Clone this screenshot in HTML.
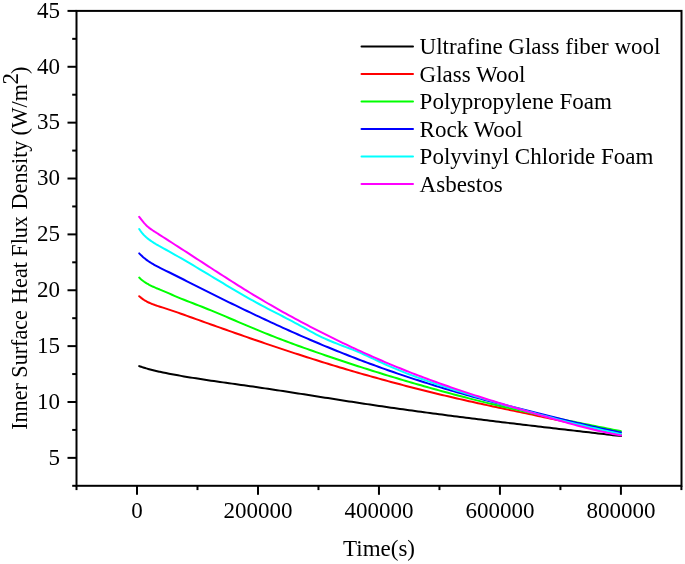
<!DOCTYPE html>
<html><head><meta charset="utf-8"><style>
html,body{margin:0;padding:0;background:#fff;width:685px;height:564px;overflow:hidden;}
svg{display:block;font-family:"Liberation Serif",serif;will-change:transform;}
</style></head><body>
<svg width="685" height="564" viewBox="0 0 685 564"><rect width="685" height="564" fill="#fff"/><g fill="none" stroke-width="2" stroke-linejoin="round" stroke-linecap="round"><path stroke="black" d="M139.20,366.10 L140.20,366.45 L141.20,366.78 L142.20,367.11 L143.20,367.43 L144.20,367.74 L145.20,368.05 L146.20,368.35 L147.20,368.64 L148.20,368.92 L149.20,369.20 L150.20,369.47 L151.20,369.73 L152.20,369.99 L153.20,370.25 L154.20,370.49 L155.20,370.74 L156.20,370.97 L157.20,371.21 L158.20,371.44 L159.20,371.66 L160.00,371.84 L163.00,372.48 L166.00,373.09 L169.00,373.67 L172.00,374.24 L175.00,374.80 L178.00,375.34 L181.00,375.87 L184.00,376.39 L187.00,376.90 L190.00,377.40 L193.00,377.88 L196.00,378.36 L199.00,378.83 L202.00,379.29 L205.00,379.75 L208.00,380.20 L211.00,380.64 L214.00,381.08 L217.00,381.51 L220.00,381.94 L223.00,382.37 L226.00,382.79 L229.00,383.21 L232.00,383.63 L235.00,384.05 L238.00,384.47 L241.00,384.90 L244.00,385.32 L247.00,385.74 L250.00,386.17 L253.00,386.61 L256.00,387.04 L259.00,387.48 L262.00,387.92 L265.00,388.37 L268.00,388.81 L271.00,389.26 L274.00,389.72 L277.00,390.17 L280.00,390.63 L283.00,391.09 L286.00,391.55 L289.00,392.01 L292.00,392.48 L295.00,392.94 L298.00,393.41 L301.00,393.88 L304.00,394.35 L307.00,394.82 L310.00,395.29 L313.00,395.76 L316.00,396.23 L319.00,396.70 L322.00,397.17 L325.00,397.64 L328.00,398.11 L331.00,398.58 L334.00,399.05 L337.00,399.52 L340.00,399.99 L343.00,400.46 L346.00,400.92 L349.00,401.39 L352.00,401.85 L355.00,402.31 L358.00,402.77 L361.00,403.22 L364.00,403.68 L367.00,404.13 L370.00,404.58 L373.00,405.02 L376.00,405.47 L379.00,405.91 L382.00,406.35 L385.00,406.78 L388.00,407.21 L391.00,407.64 L394.00,408.07 L397.00,408.50 L400.00,408.92 L403.00,409.34 L406.00,409.76 L409.00,410.18 L412.00,410.59 L415.00,411.00 L418.00,411.41 L421.00,411.82 L424.00,412.23 L427.00,412.63 L430.00,413.03 L433.00,413.43 L436.00,413.83 L439.00,414.22 L442.00,414.61 L445.00,415.01 L448.00,415.40 L451.00,415.78 L454.00,416.17 L457.00,416.56 L460.00,416.94 L463.00,417.32 L466.00,417.70 L469.00,418.08 L472.00,418.45 L475.00,418.83 L478.00,419.20 L481.00,419.58 L484.00,419.95 L487.00,420.32 L490.00,420.68 L493.00,421.05 L496.00,421.42 L499.00,421.78 L502.00,422.15 L505.00,422.51 L508.00,422.87 L511.00,423.23 L514.00,423.59 L517.00,423.95 L520.00,424.31 L523.00,424.66 L526.00,425.02 L529.00,425.37 L532.00,425.73 L535.00,426.08 L538.00,426.43 L541.00,426.79 L544.00,427.14 L547.00,427.49 L550.00,427.84 L553.00,428.19 L556.00,428.54 L559.00,428.89 L562.00,429.24 L565.00,429.58 L568.00,429.93 L571.00,430.28 L574.00,430.63 L577.00,430.97 L580.00,431.32 L583.00,431.67 L586.00,432.01 L589.00,432.36 L592.00,432.71 L595.00,433.05 L598.00,433.40 L601.00,433.75 L604.00,434.10 L607.00,434.44 L610.00,434.79 L613.00,435.14 L616.00,435.48 L619.00,435.83 L620.90,436.05"/><path stroke="#ff0000" d="M139.20,296.21 L140.20,297.09 L141.20,297.90 L142.20,298.66 L143.20,299.37 L144.20,300.03 L145.20,300.65 L146.20,301.23 L147.20,301.76 L148.20,302.27 L149.20,302.74 L150.20,303.19 L151.20,303.62 L152.20,304.03 L153.20,304.41 L154.20,304.79 L155.20,305.15 L156.20,305.49 L157.20,305.83 L158.20,306.16 L159.20,306.48 L160.00,306.73 L163.00,307.66 L166.00,308.61 L169.00,309.58 L172.00,310.58 L175.00,311.60 L178.00,312.65 L181.00,313.71 L184.00,314.78 L187.00,315.86 L190.00,316.94 L193.00,318.02 L196.00,319.10 L199.00,320.17 L202.00,321.25 L205.00,322.32 L208.00,323.40 L211.00,324.47 L214.00,325.54 L217.00,326.60 L220.00,327.67 L223.00,328.73 L226.00,329.79 L229.00,330.85 L232.00,331.91 L235.00,332.96 L238.00,334.01 L241.00,335.06 L244.00,336.11 L247.00,337.15 L250.00,338.19 L253.00,339.22 L256.00,340.26 L259.00,341.28 L262.00,342.31 L265.00,343.33 L268.00,344.35 L271.00,345.37 L274.00,346.38 L277.00,347.38 L280.00,348.39 L283.00,349.39 L286.00,350.38 L289.00,351.37 L292.00,352.35 L295.00,353.34 L298.00,354.31 L301.00,355.28 L304.00,356.25 L307.00,357.21 L310.00,358.17 L313.00,359.12 L316.00,360.06 L319.00,361.00 L322.00,361.94 L325.00,362.87 L328.00,363.79 L331.00,364.71 L334.00,365.62 L337.00,366.53 L340.00,367.43 L343.00,368.33 L346.00,369.22 L349.00,370.11 L352.00,370.99 L355.00,371.86 L358.00,372.73 L361.00,373.59 L364.00,374.45 L367.00,375.31 L370.00,376.15 L373.00,377.00 L376.00,377.83 L379.00,378.66 L382.00,379.49 L385.00,380.31 L388.00,381.13 L391.00,381.94 L394.00,382.74 L397.00,383.54 L400.00,384.34 L403.00,385.13 L406.00,385.91 L409.00,386.69 L412.00,387.46 L415.00,388.23 L418.00,388.99 L421.00,389.75 L424.00,390.50 L427.00,391.25 L430.00,391.99 L433.00,392.73 L436.00,393.46 L439.00,394.19 L442.00,394.91 L445.00,395.63 L448.00,396.34 L451.00,397.05 L454.00,397.75 L457.00,398.45 L460.00,399.14 L463.00,399.82 L466.00,400.50 L469.00,401.18 L472.00,401.85 L475.00,402.52 L478.00,403.18 L481.00,403.84 L484.00,404.49 L487.00,405.14 L490.00,405.79 L493.00,406.43 L496.00,407.07 L499.00,407.71 L502.00,408.34 L505.00,408.98 L508.00,409.61 L511.00,410.24 L514.00,410.87 L517.00,411.50 L520.00,412.13 L523.00,412.75 L526.00,413.38 L529.00,414.01 L532.00,414.64 L535.00,415.27 L538.00,415.90 L541.00,416.53 L544.00,417.16 L547.00,417.80 L550.00,418.43 L553.00,419.07 L556.00,419.72 L559.00,420.36 L562.00,421.01 L565.00,421.66 L568.00,422.32 L571.00,422.98 L574.00,423.64 L577.00,424.31 L580.00,424.99 L583.00,425.67 L586.00,426.36 L589.00,427.05 L592.00,427.74 L595.00,428.45 L598.00,429.16 L601.00,429.88 L604.00,430.60 L607.00,431.34 L610.00,432.08 L613.00,432.83 L616.00,433.58 L619.00,434.35 L620.90,434.84"/><path stroke="#00ff00" d="M139.20,277.59 L140.20,278.53 L141.20,279.40 L142.20,280.23 L143.20,281.00 L144.20,281.73 L145.20,282.41 L146.20,283.05 L147.20,283.66 L148.20,284.23 L149.20,284.78 L150.20,285.30 L151.20,285.80 L152.20,286.28 L153.20,286.74 L154.20,287.19 L155.20,287.62 L156.20,288.05 L157.20,288.47 L158.20,288.88 L159.20,289.28 L160.00,289.60 L163.00,290.82 L166.00,292.07 L169.00,293.39 L172.00,294.72 L175.00,296.05 L178.00,297.34 L181.00,298.58 L184.00,299.79 L187.00,300.97 L190.00,302.14 L193.00,303.30 L196.00,304.45 L199.00,305.61 L202.00,306.79 L205.00,307.99 L208.00,309.20 L211.00,310.42 L214.00,311.66 L217.00,312.91 L220.00,314.17 L223.00,315.43 L226.00,316.70 L229.00,317.98 L232.00,319.26 L235.00,320.54 L238.00,321.82 L241.00,323.10 L244.00,324.38 L247.00,325.65 L250.00,326.92 L253.00,328.18 L256.00,329.43 L259.00,330.66 L262.00,331.89 L265.00,333.10 L268.00,334.30 L271.00,335.49 L274.00,336.67 L277.00,337.83 L280.00,338.98 L283.00,340.13 L286.00,341.26 L289.00,342.38 L292.00,343.49 L295.00,344.60 L298.00,345.69 L301.00,346.78 L304.00,347.86 L307.00,348.93 L310.00,349.99 L313.00,351.05 L316.00,352.10 L319.00,353.14 L322.00,354.18 L325.00,355.21 L328.00,356.24 L331.00,357.26 L334.00,358.27 L337.00,359.28 L340.00,360.28 L343.00,361.28 L346.00,362.27 L349.00,363.26 L352.00,364.24 L355.00,365.22 L358.00,366.19 L361.00,367.15 L364.00,368.11 L367.00,369.06 L370.00,370.01 L373.00,370.95 L376.00,371.89 L379.00,372.82 L382.00,373.75 L385.00,374.67 L388.00,375.59 L391.00,376.50 L394.00,377.40 L397.00,378.30 L400.00,379.20 L403.00,380.09 L406.00,380.97 L409.00,381.85 L412.00,382.72 L415.00,383.59 L418.00,384.46 L421.00,385.31 L424.00,386.17 L427.00,387.02 L430.00,387.86 L433.00,388.70 L436.00,389.53 L439.00,390.36 L442.00,391.18 L445.00,392.00 L448.00,392.81 L451.00,393.62 L454.00,394.43 L457.00,395.22 L460.00,396.02 L463.00,396.80 L466.00,397.58 L469.00,398.36 L472.00,399.13 L475.00,399.89 L478.00,400.64 L481.00,401.39 L484.00,402.14 L487.00,402.88 L490.00,403.61 L493.00,404.33 L496.00,405.05 L499.00,405.76 L502.00,406.46 L505.00,407.16 L508.00,407.85 L511.00,408.53 L514.00,409.21 L517.00,409.88 L520.00,410.55 L523.00,411.21 L526.00,411.86 L529.00,412.51 L532.00,413.16 L535.00,413.80 L538.00,414.44 L541.00,415.07 L544.00,415.70 L547.00,416.32 L550.00,416.95 L553.00,417.56 L556.00,418.18 L559.00,418.79 L562.00,419.40 L565.00,420.01 L568.00,420.62 L571.00,421.22 L574.00,421.82 L577.00,422.43 L580.00,423.03 L583.00,423.63 L586.00,424.23 L589.00,424.82 L592.00,425.42 L595.00,426.02 L598.00,426.62 L601.00,427.22 L604.00,427.82 L607.00,428.42 L610.00,429.02 L613.00,429.63 L616.00,430.23 L619.00,430.84 L620.90,431.23"/><path stroke="#0000ff" d="M139.20,253.35 L140.20,254.36 L141.20,255.34 L142.20,256.26 L143.20,257.15 L144.20,258.00 L145.20,258.81 L146.20,259.59 L147.20,260.33 L148.20,261.05 L149.20,261.73 L150.20,262.39 L151.20,263.02 L152.20,263.64 L153.20,264.23 L154.20,264.80 L155.20,265.36 L156.20,265.90 L157.20,266.43 L158.20,266.95 L159.20,267.46 L160.00,267.86 L163.00,269.33 L166.00,270.79 L169.00,272.27 L172.00,273.75 L175.00,275.24 L178.00,276.74 L181.00,278.25 L184.00,279.76 L187.00,281.28 L190.00,282.80 L193.00,284.32 L196.00,285.83 L199.00,287.35 L202.00,288.86 L205.00,290.37 L208.00,291.87 L211.00,293.37 L214.00,294.87 L217.00,296.36 L220.00,297.85 L223.00,299.33 L226.00,300.81 L229.00,302.28 L232.00,303.74 L235.00,305.21 L238.00,306.66 L241.00,308.11 L244.00,309.56 L247.00,311.00 L250.00,312.43 L253.00,313.86 L256.00,315.28 L259.00,316.70 L262.00,318.11 L265.00,319.51 L268.00,320.91 L271.00,322.30 L274.00,323.68 L277.00,325.06 L280.00,326.43 L283.00,327.79 L286.00,329.14 L289.00,330.49 L292.00,331.83 L295.00,333.16 L298.00,334.49 L301.00,335.81 L304.00,337.12 L307.00,338.42 L310.00,339.71 L313.00,341.00 L316.00,342.27 L319.00,343.54 L322.00,344.80 L325.00,346.05 L328.00,347.29 L331.00,348.52 L334.00,349.75 L337.00,350.96 L340.00,352.17 L343.00,353.36 L346.00,354.55 L349.00,355.73 L352.00,356.89 L355.00,358.05 L358.00,359.20 L361.00,360.34 L364.00,361.47 L367.00,362.59 L370.00,363.71 L373.00,364.81 L376.00,365.90 L379.00,366.99 L382.00,368.07 L385.00,369.13 L388.00,370.19 L391.00,371.24 L394.00,372.28 L397.00,373.32 L400.00,374.34 L403.00,375.35 L406.00,376.36 L409.00,377.36 L412.00,378.35 L415.00,379.33 L418.00,380.30 L421.00,381.27 L424.00,382.22 L427.00,383.17 L430.00,384.11 L433.00,385.04 L436.00,385.97 L439.00,386.88 L442.00,387.79 L445.00,388.69 L448.00,389.58 L451.00,390.46 L454.00,391.34 L457.00,392.20 L460.00,393.06 L463.00,393.91 L466.00,394.76 L469.00,395.60 L472.00,396.42 L475.00,397.24 L478.00,398.06 L481.00,398.86 L484.00,399.66 L487.00,400.45 L490.00,401.24 L493.00,402.02 L496.00,402.79 L499.00,403.56 L502.00,404.32 L505.00,405.08 L508.00,405.84 L511.00,406.59 L514.00,407.33 L517.00,408.08 L520.00,408.82 L523.00,409.56 L526.00,410.30 L529.00,411.04 L532.00,411.77 L535.00,412.51 L538.00,413.24 L541.00,413.98 L544.00,414.72 L547.00,415.46 L550.00,416.20 L553.00,416.94 L556.00,417.68 L559.00,418.43 L562.00,419.17 L565.00,419.91 L568.00,420.65 L571.00,421.39 L574.00,422.12 L577.00,422.85 L580.00,423.57 L583.00,424.29 L586.00,425.00 L589.00,425.70 L592.00,426.40 L595.00,427.08 L598.00,427.76 L601.00,428.42 L604.00,429.07 L607.00,429.71 L610.00,430.33 L613.00,430.95 L616.00,431.54 L619.00,432.12 L620.90,432.48"/><path stroke="#00ffff" d="M139.20,229.01 L140.20,230.48 L141.20,231.85 L142.20,233.10 L143.20,234.27 L144.20,235.34 L145.20,236.33 L146.20,237.25 L147.20,238.11 L148.20,238.92 L149.20,239.68 L150.20,240.40 L151.20,241.09 L152.20,241.77 L153.20,242.42 L154.20,243.05 L155.20,243.66 L156.20,244.27 L157.20,244.85 L158.20,245.43 L159.20,246.00 L160.00,246.45 L163.00,248.10 L166.00,249.75 L169.00,251.41 L172.00,253.09 L175.00,254.79 L178.00,256.50 L181.00,258.22 L184.00,259.95 L187.00,261.70 L190.00,263.46 L193.00,265.23 L196.00,267.01 L199.00,268.79 L202.00,270.59 L205.00,272.39 L208.00,274.19 L211.00,276.00 L214.00,277.81 L217.00,279.62 L220.00,281.42 L223.00,283.23 L226.00,285.02 L229.00,286.81 L232.00,288.60 L235.00,290.37 L238.00,292.13 L241.00,293.88 L244.00,295.61 L247.00,297.33 L250.00,299.03 L253.00,300.71 L256.00,302.36 L259.00,304.00 L262.00,305.61 L265.00,307.20 L268.00,308.77 L271.00,310.33 L274.00,311.88 L277.00,313.42 L280.00,314.96 L283.00,316.50 L286.00,318.05 L289.00,319.61 L292.00,321.19 L295.00,322.78 L298.00,324.40 L301.00,326.05 L304.00,327.72 L307.00,329.39 L310.00,331.06 L313.00,332.70 L316.00,334.30 L319.00,335.84 L322.00,337.30 L325.00,338.68 L328.00,340.00 L331.00,341.27 L334.00,342.48 L337.00,343.67 L340.00,344.83 L343.00,345.98 L346.00,347.12 L349.00,348.27 L352.00,349.44 L355.00,350.64 L358.00,351.88 L361.00,353.17 L364.00,354.50 L367.00,355.88 L370.00,357.29 L373.00,358.70 L376.00,360.13 L379.00,361.53 L382.00,362.92 L385.00,364.28 L388.00,365.61 L391.00,366.92 L394.00,368.20 L397.00,369.45 L400.00,370.68 L403.00,371.89 L406.00,373.08 L409.00,374.25 L412.00,375.40 L415.00,376.52 L418.00,377.63 L421.00,378.72 L424.00,379.79 L427.00,380.85 L430.00,381.89 L433.00,382.92 L436.00,383.93 L439.00,384.93 L442.00,385.92 L445.00,386.90 L448.00,387.86 L451.00,388.82 L454.00,389.76 L457.00,390.70 L460.00,391.63 L463.00,392.55 L466.00,393.47 L469.00,394.39 L472.00,395.29 L475.00,396.20 L478.00,397.10 L481.00,398.00 L484.00,398.89 L487.00,399.78 L490.00,400.66 L493.00,401.54 L496.00,402.41 L499.00,403.28 L502.00,404.15 L505.00,405.01 L508.00,405.86 L511.00,406.71 L514.00,407.56 L517.00,408.40 L520.00,409.24 L523.00,410.07 L526.00,410.90 L529.00,411.72 L532.00,412.53 L535.00,413.34 L538.00,414.15 L541.00,414.95 L544.00,415.74 L547.00,416.53 L550.00,417.31 L553.00,418.09 L556.00,418.86 L559.00,419.63 L562.00,420.39 L565.00,421.14 L568.00,421.89 L571.00,422.63 L574.00,423.37 L577.00,424.10 L580.00,424.82 L583.00,425.54 L586.00,426.25 L589.00,426.96 L592.00,427.65 L595.00,428.34 L598.00,429.03 L601.00,429.71 L604.00,430.38 L607.00,431.04 L610.00,431.70 L613.00,432.35 L616.00,433.00 L619.00,433.63 L620.90,434.03"/><path stroke="#ff00ff" d="M139.20,216.82 L140.20,218.16 L141.20,219.46 L142.20,220.71 L143.20,221.92 L144.20,223.08 L145.20,224.17 L146.20,225.20 L147.20,226.15 L148.20,227.03 L149.20,227.86 L150.20,228.63 L151.20,229.35 L152.20,230.04 L153.20,230.71 L154.20,231.36 L155.20,232.00 L156.20,232.64 L157.20,233.28 L158.20,233.92 L159.20,234.56 L160.00,235.08 L163.00,237.00 L166.00,238.93 L169.00,240.85 L172.00,242.78 L175.00,244.72 L178.00,246.65 L181.00,248.58 L184.00,250.52 L187.00,252.46 L190.00,254.40 L193.00,256.35 L196.00,258.29 L199.00,260.24 L202.00,262.19 L205.00,264.14 L208.00,266.08 L211.00,268.03 L214.00,269.97 L217.00,271.91 L220.00,273.84 L223.00,275.77 L226.00,277.69 L229.00,279.60 L232.00,281.51 L235.00,283.41 L238.00,285.30 L241.00,287.18 L244.00,289.05 L247.00,290.90 L250.00,292.74 L253.00,294.57 L256.00,296.39 L259.00,298.19 L262.00,299.98 L265.00,301.74 L268.00,303.50 L271.00,305.23 L274.00,306.96 L277.00,308.66 L280.00,310.36 L283.00,312.03 L286.00,313.70 L289.00,315.35 L292.00,316.99 L295.00,318.61 L298.00,320.22 L301.00,321.82 L304.00,323.41 L307.00,324.98 L310.00,326.55 L313.00,328.10 L316.00,329.64 L319.00,331.17 L322.00,332.69 L325.00,334.20 L328.00,335.70 L331.00,337.18 L334.00,338.66 L337.00,340.13 L340.00,341.58 L343.00,343.03 L346.00,344.46 L349.00,345.88 L352.00,347.29 L355.00,348.69 L358.00,350.08 L361.00,351.46 L364.00,352.82 L367.00,354.18 L370.00,355.52 L373.00,356.85 L376.00,358.17 L379.00,359.48 L382.00,360.77 L385.00,362.06 L388.00,363.33 L391.00,364.59 L394.00,365.83 L397.00,367.07 L400.00,368.29 L403.00,369.50 L406.00,370.70 L409.00,371.88 L412.00,373.06 L415.00,374.22 L418.00,375.37 L421.00,376.51 L424.00,377.64 L427.00,378.76 L430.00,379.86 L433.00,380.96 L436.00,382.05 L439.00,383.12 L442.00,384.19 L445.00,385.25 L448.00,386.30 L451.00,387.34 L454.00,388.37 L457.00,389.39 L460.00,390.40 L463.00,391.41 L466.00,392.40 L469.00,393.39 L472.00,394.37 L475.00,395.35 L478.00,396.32 L481.00,397.28 L484.00,398.23 L487.00,399.18 L490.00,400.12 L493.00,401.05 L496.00,401.98 L499.00,402.90 L502.00,403.82 L505.00,404.73 L508.00,405.64 L511.00,406.54 L514.00,407.44 L517.00,408.33 L520.00,409.22 L523.00,410.10 L526.00,410.99 L529.00,411.86 L532.00,412.74 L535.00,413.61 L538.00,414.48 L541.00,415.34 L544.00,416.20 L547.00,417.06 L550.00,417.92 L553.00,418.78 L556.00,419.63 L559.00,420.48 L562.00,421.32 L565.00,422.16 L568.00,422.99 L571.00,423.82 L574.00,424.63 L577.00,425.44 L580.00,426.23 L583.00,427.01 L586.00,427.78 L589.00,428.54 L592.00,429.28 L595.00,430.00 L598.00,430.71 L601.00,431.40 L604.00,432.07 L607.00,432.72 L610.00,433.35 L613.00,433.96 L616.00,434.54 L619.00,435.10 L620.90,435.45"/></g><g stroke="#000" stroke-width="2.0" fill="none"><rect x="76.5" y="10.9" width="605.0" height="474.90000000000003"/><line x1="76.51" y1="485.8" x2="76.51" y2="490.1"/><line x1="137.00" y1="485.8" x2="137.00" y2="494.8"/><line x1="197.49" y1="485.8" x2="197.49" y2="490.1"/><line x1="257.98" y1="485.8" x2="257.98" y2="494.8"/><line x1="318.47" y1="485.8" x2="318.47" y2="490.1"/><line x1="378.96" y1="485.8" x2="378.96" y2="494.8"/><line x1="439.45" y1="485.8" x2="439.45" y2="490.1"/><line x1="499.94" y1="485.8" x2="499.94" y2="494.8"/><line x1="560.43" y1="485.8" x2="560.43" y2="490.1"/><line x1="620.92" y1="485.8" x2="620.92" y2="494.8"/><line x1="681.41" y1="485.8" x2="681.41" y2="490.1"/><line x1="76.5" y1="485.80" x2="72.2" y2="485.80"/><line x1="76.5" y1="457.87" x2="67.5" y2="457.87"/><line x1="76.5" y1="429.93" x2="72.2" y2="429.93"/><line x1="76.5" y1="402.00" x2="67.5" y2="402.00"/><line x1="76.5" y1="374.06" x2="72.2" y2="374.06"/><line x1="76.5" y1="346.12" x2="67.5" y2="346.12"/><line x1="76.5" y1="318.19" x2="72.2" y2="318.19"/><line x1="76.5" y1="290.25" x2="67.5" y2="290.25"/><line x1="76.5" y1="262.32" x2="72.2" y2="262.32"/><line x1="76.5" y1="234.39" x2="67.5" y2="234.39"/><line x1="76.5" y1="206.45" x2="72.2" y2="206.45"/><line x1="76.5" y1="178.52" x2="67.5" y2="178.52"/><line x1="76.5" y1="150.58" x2="72.2" y2="150.58"/><line x1="76.5" y1="122.65" x2="67.5" y2="122.65"/><line x1="76.5" y1="94.71" x2="72.2" y2="94.71"/><line x1="76.5" y1="66.78" x2="67.5" y2="66.78"/><line x1="76.5" y1="38.84" x2="72.2" y2="38.84"/><line x1="76.5" y1="10.91" x2="67.5" y2="10.91"/></g><g font-family="Liberation Serif" font-size="23" fill="#000"><text x="137.00" y="518.1" text-anchor="middle">0</text><text x="257.98" y="518.1" text-anchor="middle">200000</text><text x="378.96" y="518.1" text-anchor="middle">400000</text><text x="499.94" y="518.1" text-anchor="middle">600000</text><text x="620.92" y="518.1" text-anchor="middle">800000</text><text x="60" y="464.67" text-anchor="end">5</text><text x="60" y="408.80" text-anchor="end">10</text><text x="60" y="352.93" text-anchor="end">15</text><text x="60" y="297.06" text-anchor="end">20</text><text x="60" y="241.19" text-anchor="end">25</text><text x="60" y="185.32" text-anchor="end">30</text><text x="60" y="129.45" text-anchor="end">35</text><text x="60" y="73.58" text-anchor="end">40</text><text x="60" y="17.71" text-anchor="end">45</text></g><text font-family="Liberation Serif" font-size="23" x="379" y="556.1" text-anchor="middle">Time(s)</text><text font-family="Liberation Serif" font-size="22.1" transform="translate(27.2,429.8) rotate(-90)">Inner Surface <tspan dx="0.8">Heat Flux </tspan><tspan dx="1.2">Density</tspan><tspan dx="-0.5"> (W/m</tspan><tspan font-size="23" dx="-0.5" dy="-8.8">2</tspan><tspan dx="-1" dy="8.8">)</tspan></text><line x1="361.5" y1="46.40" x2="413" y2="46.40" stroke="black" stroke-width="2" stroke-linecap="round"/><text font-family="Liberation Serif" font-size="23" x="419.6" y="54.40">Ultrafine Glass fiber wool</text><line x1="361.5" y1="73.90" x2="413" y2="73.90" stroke="#ff0000" stroke-width="2" stroke-linecap="round"/><text font-family="Liberation Serif" font-size="23" x="419.6" y="81.90">Glass Wool</text><line x1="361.5" y1="101.40" x2="413" y2="101.40" stroke="#00ff00" stroke-width="2" stroke-linecap="round"/><text font-family="Liberation Serif" font-size="23" x="419.6" y="109.40">Polypropylene Foam</text><line x1="361.5" y1="128.90" x2="413" y2="128.90" stroke="#0000ff" stroke-width="2" stroke-linecap="round"/><text font-family="Liberation Serif" font-size="23" x="419.6" y="136.90">Rock Wool</text><line x1="361.5" y1="156.40" x2="413" y2="156.40" stroke="#00ffff" stroke-width="2" stroke-linecap="round"/><text font-family="Liberation Serif" font-size="23" x="419.6" y="164.40">Polyvinyl Chloride Foam</text><line x1="361.5" y1="183.90" x2="413" y2="183.90" stroke="#ff00ff" stroke-width="2" stroke-linecap="round"/><text font-family="Liberation Serif" font-size="23" x="419.6" y="191.90">Asbestos</text></svg>
</body></html>
